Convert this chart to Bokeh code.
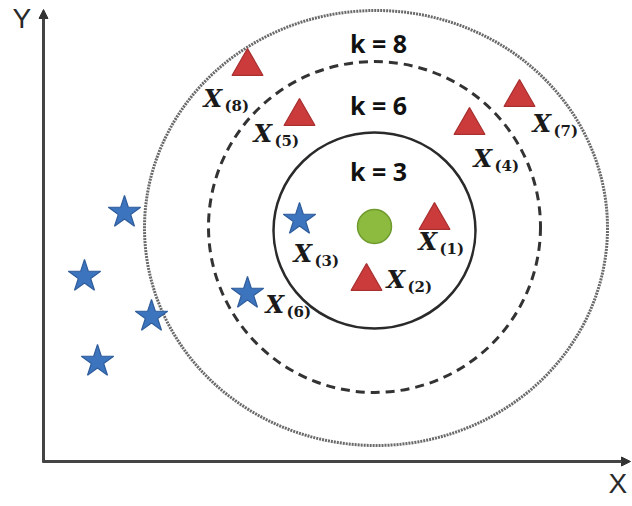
from bokeh.plotting import figure
from bokeh.models import Range1d, Arrow, NormalHead
from bokeh.core.properties import value
from bokeh.embed import file_html
from bokeh.resources import INLINE

# Query point (green)
query_x = [331]
query_y = [235]

# Class A neighbours (red triangles), labelled by neighbour rank
tri_x = [391, 323, 426, 256, 476, 204]
tri_y = [241, 180, 336, 345, 364, 395]
tri_rank = ["(1)", "(2)", "(4)", "(5)", "(7)", "(8)"]

# Class B points (blue stars); the first two are ranked neighbours
star_x = [256, 204, 81, 41, 108, 54]
star_y = [242, 168, 249, 185, 145, 100]

# Neighbour labels: anchor of the "X" and its rank subscript
lab_x = [375, 343, 250, 430, 210, 222, 489, 160]
lab_y = [220, 182, 208, 303, 328, 157, 338, 363]
lab_sub = ["(1)", "(2)", "(3)", "(4)", "(5)", "(6)", "(7)", "(8)"]

# Neighbourhood rings for k = 3, 6, 8
ring_x = [331, 331, 332.5]
ring_y = [231, 234.5, 233.5]
ring_w = [202, 332, 463]
ring_h = [196, 331, 435]
ring_k = ["k = 3", "k = 6", "k = 8"]
k_x = [335, 335, 335]
k_y = [291, 357, 419]

# Axis extents
x_axis_end = 587
y_axis_end = 452

p = figure(width=632, height=506, output_backend="svg", toolbar_location=None,
           x_range=Range1d(-43, 589), y_range=Range1d(-45, 461),
           x_axis_type=None, y_axis_type=None, min_border=0,
           outline_line_color=None, background_fill_color="white")
p.grid.visible = False

# rings
p.ellipse(x=ring_x[2:3], y=ring_y[2:3], width=ring_w[2:3], height=ring_h[2:3],
          fill_color=None, line_color="#6a6a6a", line_width=3, line_dash="2 1")
p.ellipse(x=ring_x[1:2], y=ring_y[1:2], width=ring_w[1:2], height=ring_h[1:2],
          fill_color=None, line_color="#333333", line_width=3, line_dash="9 6")
p.ellipse(x=ring_x[0:1], y=ring_y[0:1], width=ring_w[0:1], height=ring_h[0:1],
          fill_color=None, line_color="#2a2a2a", line_width=2.5)

# axes with arrowheads
p.add_layout(Arrow(end=NormalHead(size=9, fill_color="#333333", line_color="#333333", line_width=1),
                   x_start=0, y_start=-1, x_end=0, y_end=y_axis_end,
                   line_color="#444444", line_width=3))
p.add_layout(Arrow(end=NormalHead(size=9, fill_color="#333333", line_color="#333333", line_width=1),
                   x_start=-1, y_start=0, x_end=x_axis_end, y_end=0,
                   line_color="#444444", line_width=3))

# points
p.scatter(x=star_x, y=star_y, marker="star", size=34,
          fill_color="#3d74be", line_color="#2f5d9c", line_width=1.2)
p.scatter(x=tri_x, y=tri_y, marker="triangle", size=31,
          fill_color="#cc3b3b", line_color="#a83030", line_width=1.2)
p.scatter(x=query_x, y=query_y, marker="circle", size=34,
          fill_color="#8cbb3f", line_color="#6f9a2e", line_width=1.5)

# ring labels
p.text(x=k_x, y=k_y, text=ring_k, text_font=value("Open Sans"), text_font_style="bold",
       text_font_size="25px", text_color="#111111", text_align="center",
       text_baseline="alphabetic")

# neighbour labels
p.text(x=lab_x, y=lab_y, text=["X"] * len(lab_x), text_font=value("DejaVu Serif"),
       text_font_style="bold italic", text_font_size="24px", text_color="#1a1a1a",
       text_align="left", text_baseline="alphabetic")
p.text(x=lab_x, y=lab_y, text=lab_sub, text_font=value("DejaVu Serif"),
       text_font_style="bold", text_font_size="15px", text_color="#1a1a1a",
       text_align="left", text_baseline="alphabetic", x_offset=21, y_offset=7)

# axis names
p.text(x=[-31], y=[443], text=["Y"], text_font=value("Liberation Sans"),
       text_font_size="28px", text_color="#2a2a2a", text_align="left",
       text_baseline="alphabetic")
p.text(x=[565], y=[-22], text=["X"], text_font=value("Liberation Sans"),
       text_font_size="28px", text_color="#2a2a2a", text_align="left",
       text_baseline="alphabetic")

open("out.html", "w").write(file_html(p, INLINE))
